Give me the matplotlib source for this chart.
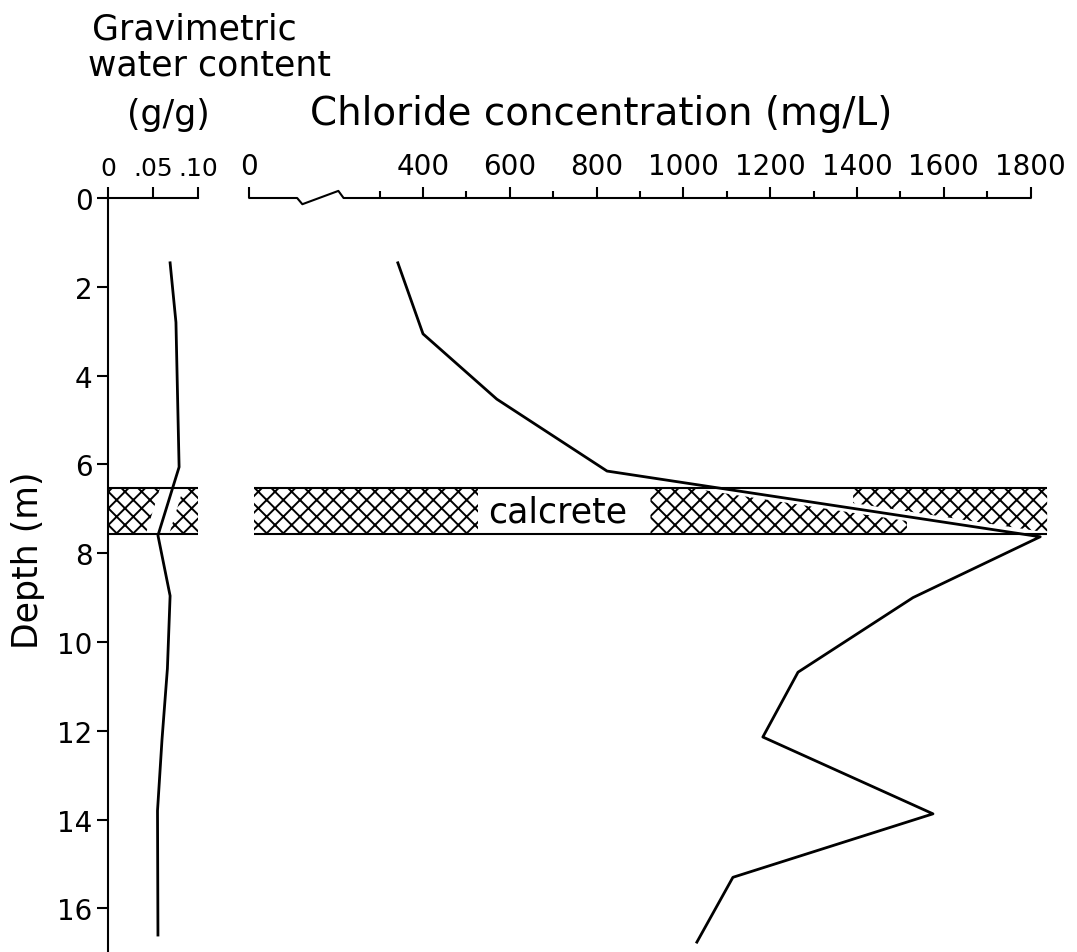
import numpy as np
import matplotlib
matplotlib.use("Agg")
import matplotlib.pyplot as plt
from matplotlib.patches import Polygon

W, H = 1077, 953

# water content profile (g/g) against depth (m)
water_depth = [1.46, 2.8, 6.06, 7.6, 8.96, 10.6, 12.2, 13.8, 16.6]
water_content = [0.069, 0.0755, 0.079, 0.0555, 0.069, 0.066, 0.060, 0.055, 0.0555]

# chloride profile (mg/L) against depth (m)
chloride_depth = [1.46, 3.06, 4.53, 6.15, 7.63, 9.0, 10.68, 12.14, 13.87, 15.3, 16.76]
chloride_conc = [342, 400, 570, 824, 1822, 1529, 1264, 1183, 1575, 1114, 1031]

# calcrete layer (m)
calcrete_top = 6.53
calcrete_bottom = 7.57

depth_ticks = [0, 2, 4, 6, 8, 10, 12, 14, 16]
water_ticks = [0, 0.05, 0.10]
water_tick_labels = ['0', '.05', '.10']
chloride_major = [0, 400, 600, 800, 1000, 1200, 1400, 1600, 1800]
chloride_minor = [300, 500, 700, 900, 1100, 1300, 1500, 1700]

plt.rcParams['font.family'] = ['DejaVu Sans']
plt.rcParams['hatch.linewidth'] = 1.4

DEPTH_MAX = (H - 199) / 44.4


def _box(left, top, width, height):
    # pixel box -> figure fraction
    return [left / W, 1 - (top + height) / H, width / W, height / H]


def _hatch(ax, verts):
    p = Polygon(verts, closed=True, fill=False, hatch='xx',
                linewidth=0, edgecolor='black')
    ax.add_patch(p)
    return p


fig = plt.figure(figsize=(W / 100, H / 100), dpi=100)

# ---- water content panel ----
ax_w = fig.add_axes(_box(108, 199, 90, H - 199))
ax_w.set_xlim(0, 0.10)
ax_w.set_ylim(DEPTH_MAX, 0)
for side in ('right', 'bottom'):
    ax_w.spines[side].set_visible(False)
for side in ('left', 'top'):
    ax_w.spines[side].set_linewidth(1.5)
ax_w.xaxis.tick_top()
ax_w.set_xticks(water_ticks)
ax_w.set_xticklabels(water_tick_labels)
ax_w.set_yticks(depth_ticks)
ax_w.tick_params(axis='x', direction='out', length=8, width=1.5, pad=5,
                 labelsize=18)
ax_w.tick_params(axis='y', direction='out', length=8, width=1.5, pad=3,
                 labelsize=20)
ax_w.patch.set_alpha(0)

ax_w.plot(water_content, water_depth, color='black', lw=2)

ds = np.linspace(calcrete_top, calcrete_bottom, 30)
wx = np.interp(ds, water_depth, water_content)
_hatch(ax_w, [(0, calcrete_top)] + list(zip(wx - 0.014, ds)) + [(0, calcrete_bottom)])
_hatch(ax_w, [(0.10, calcrete_top)] + list(zip(wx + 0.012, ds)) + [(0.10, calcrete_bottom)])
ax_w.hlines([calcrete_top, calcrete_bottom], 0, 0.10, color='black', lw=1.5)

# ---- chloride panel ----
ax_c = fig.add_axes(_box(249.4, 199, 798.6, H - 199))
ax_c.set_xlim(0, 1840)
ax_c.set_ylim(DEPTH_MAX, 0)
for side in ax_c.spines:
    ax_c.spines[side].set_visible(False)
ax_c.xaxis.tick_top()
ax_c.set_xticks(chloride_major)
ax_c.set_xticks(chloride_minor, minor=True)
ax_c.tick_params(axis='x', which='major', direction='out', length=8,
                 width=1.5, pad=5, labelsize=20)
ax_c.tick_params(axis='x', which='minor', direction='out', length=5,
                 width=1.5)
ax_c.set_yticks([])
ax_c.patch.set_alpha(0)

# axis line with scale break
ax_c.plot([0, 110, 122, 205, 217, 1800], [0, 0, 0.14, -0.16, 0, 0],
          color='black', lw=1.5, clip_on=False)

ax_c.plot(chloride_conc, chloride_depth, color='black', lw=2, clip_on=False)

# calcrete hatching, leaving room for the label and the profile line
seg_c = chloride_conc[3:5]
seg_d = chloride_depth[3:5]
_hatch(ax_c, [(10, calcrete_top), (527, calcrete_top),
              (527, calcrete_bottom), (10, calcrete_bottom)])
cs = np.linspace(924, 1515, 60)
low = np.clip(np.interp(cs, seg_c, seg_d) + 0.1, calcrete_top, calcrete_bottom)
_hatch(ax_c, [(924, calcrete_bottom)] + list(zip(cs, low)) + [(1515, calcrete_bottom)])
cs = np.linspace(1391, 1838, 60)
up = np.clip(np.interp(cs, seg_c, seg_d) - 0.12, calcrete_top, calcrete_bottom)
_hatch(ax_c, [(1391, calcrete_top), (1838, calcrete_top)] + list(zip(cs[::-1], up[::-1])))
ax_c.hlines([calcrete_top, calcrete_bottom], 10, 1838, color='black', lw=1.5)
ax_c.text(711, (calcrete_top + calcrete_bottom) / 2, 'calcrete',
          ha='center', va='center', fontsize=25)

# ---- titles ----
fig.text(92 / W, 1 - 40 / H, 'Gravimetric', ha='left', va='baseline',
         fontsize=25)
fig.text(88 / W, 1 - 75 / H, 'water content', ha='left', va='baseline',
         fontsize=25)
fig.text(168 / W, 1 - 125 / H, '(g/g)', ha='center', va='baseline',
         fontsize=25)
fig.text(601 / W, 1 - 125 / H, 'Chloride concentration (mg/L)',
         ha='center', va='baseline', fontsize=28)
fig.text(28 / W, 1 - 560 / H, 'Depth (m)', rotation=90, ha='center',
         va='center', fontsize=25)

fig.savefig('out.png', dpi=100)
